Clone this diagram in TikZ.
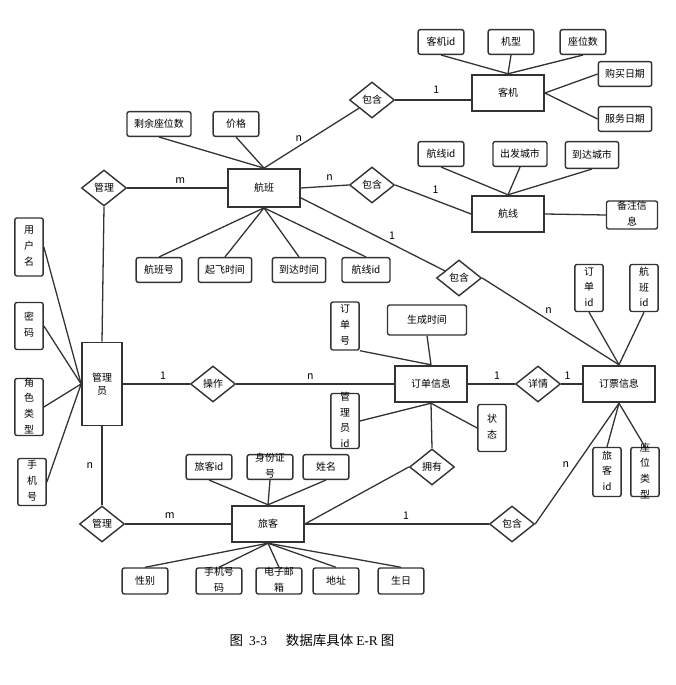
\documentclass[tikz,border=0pt]{standalone}
\usepackage{fontspec}
\setmainfont{Noto Sans CJK SC}
\newfontfamily\capfont{Liberation Serif}
\usetikzlibrary{shapes.geometric}
\definecolor{erline}{HTML}{333333}
\newcommand{\stacktext}[2][0.8cm]{\parbox[c][0pt][c]{#1}{\centering\baselineskip=13.5pt #2}}

\begin{document}
\begin{tikzpicture}[x=0.03cm,y=-0.03cm,
  font=\fontsize{8.5}{11}\selectfont,
  entity/.style={draw=erline,line width=1.5pt,inner sep=0pt,minimum width=2.16cm,minimum height=1.1cm,align=center},
  attrib/.style={draw=erline,line width=1.2pt,rounded corners=1.8pt,inner sep=0pt,minimum width=1.37cm,minimum height=0.74cm,align=center},
  vattrib/.style={attrib,minimum width=0.85cm,minimum height=#1},
  relation/.style={diamond,draw=erline,line width=1.2pt,inner sep=0pt,minimum width=1.35cm,minimum height=1.08cm},
  conn/.style={draw=erline,line width=1.1pt},
  card/.style={inner sep=1pt,font=\fontsize{9}{10}\selectfont}]
  \useasboundingbox (0,0) rectangle (675,685);
  % 客机
  \node[entity] (kj) at (508,93) {客机};
  \node[attrib] (kjid) at (441,42) {客机id};
  \node[attrib] (jx) at (511,42) {机型};
  \node[attrib] (zws) at (583,42) {座位数};
  \node[attrib,minimum width=1.6cm] (gmrq) at (625,74) {购买日期};
  \node[attrib,minimum width=1.6cm] (fwrq) at (625,119) {服务日期};
  % 航线
  \node[entity] (hx) at (508,214) {航线};
  \node[attrib] (hxid) at (441,154) {航线id};
  \node[attrib,minimum width=1.62cm] (cfcs) at (520,154) {出发城市};
  \node[attrib,minimum width=1.6cm,minimum height=0.8cm] (ddcs) at (592,155) {到达城市};
  \node[attrib,minimum width=1.53cm,minimum height=0.84cm] (bzxx) at (632,215) {\stacktext[1.4cm]{备注信\\息}};
  % 航班
  \node[entity,minimum height=1.14cm] (hb) at (264,188) {航班};
  \node[attrib,minimum width=1.92cm] (syzws) at (159,124) {剩余座位数};
  \node[attrib] (jg) at (236,124) {价格};
  \node[attrib] (hbh) at (159,270) {航班号};
  \node[attrib,minimum width=1.6cm] (qfsj) at (225,270) {起飞时间};
  \node[attrib,minimum width=1.6cm] (ddsj) at (299,270) {到达时间};
  \node[attrib,minimum width=1.44cm] (hbhxid) at (366,270) {航线id};
  % relationships
  \node[relation] (bh1) at (372,100) {包含};
  \node[relation] (bh2) at (372,185) {包含};
  \node[relation] (bh3) at (459,278) {包含};
  \node[relation] (bh4) at (512,524) {包含};
  \node[relation] (gl1) at (104,188) {管理};
  \node[relation] (gl2) at (102,524) {管理};
  \node[relation] (cz) at (213,384) {操作};
  \node[relation] (xq) at (538,384) {详情};
  \node[relation] (yy) at (432,467) {拥有};
  % 管理员
  \node[entity,minimum width=1.2cm,minimum height=2.49cm] (glr) at (102,384) {管理\\员};
  \node[vattrib=1.74cm] (yhm) at (29,247) {\stacktext{用\\户\\名}};
  \node[vattrib=1.41cm] (mm) at (29,326) {\stacktext{密\\码}};
  \node[vattrib=1.71cm] (jslx) at (29,407) {\stacktext{角\\色\\类\\型}};
  \node[vattrib=1.41cm] (sjh) at (32,482) {\stacktext{手\\机\\号}};
  % 订单信息
  \node[entity] (ddxx) at (431,384) {订单信息};
  \node[vattrib=1.44cm] (ddh) at (345,326) {\stacktext{订\\单\\号}};
  \node[attrib,minimum width=2.37cm,minimum height=0.9cm] (scsj) at (427,320) {生成时间};
  \node[vattrib=1.65cm] (glyid) at (345,421) {\stacktext{管\\理\\员\\id}};
  \node[vattrib=1.41cm] (zt) at (492,428) {\stacktext{状\\态}};
  % 订票信息
  \node[entity] (dpxx) at (619,384) {订票信息};
  \node[vattrib=1.41cm] (ddid) at (589,288) {\stacktext{订\\单\\id}};
  \node[vattrib=1.41cm] (hbid) at (644,288) {\stacktext{航\\班\\id}};
  \node[vattrib=1.47cm] (lkid2) at (607,472) {\stacktext{旅\\客\\id}};
  \node[vattrib=1.47cm] (zwlx) at (645,472) {\stacktext{座\\位\\类\\型}};
  % 旅客
  \node[entity] (lk) at (268,524) {旅客};
  \node[attrib] (lkid) at (209,467) {旅客id};
  \node[attrib] (sfzh) at (270,467) {\stacktext[1.3cm]{身份证\\号}};
  \node[attrib] (xm) at (326,467) {姓名};
  \node[attrib,minimum height=0.78cm] (xb) at (145,581) {性别};
  \node[attrib,minimum height=0.78cm] (sjhm) at (219,581) {\stacktext[1.3cm]{手机号\\码}};
  \node[attrib,minimum height=0.78cm] (dzyx) at (279,581) {\stacktext[1.3cm]{电子邮\\箱}};
  \node[attrib,minimum height=0.78cm] (dz) at (336,581) {地址};
  \node[attrib,minimum height=0.78cm] (sr) at (401,581) {生日};

  % attribute lines
  \draw[conn] (kjid.south) -- (kj.north);
  \draw[conn] (jx.south) -- (kj.north);
  \draw[conn] (zws.south) -- (kj.north);
  \draw[conn] (kj.east) -- (gmrq.west);
  \draw[conn] (kj.east) -- (fwrq.west);
  \draw[conn] (hxid.south) -- (hx.north);
  \draw[conn] (cfcs.south) -- (hx.north);
  \draw[conn] (ddcs.south) -- (hx.north);
  \draw[conn] (hx.east) -- (bzxx.west);
  \draw[conn] (syzws.south) -- (hb.north);
  \draw[conn] (jg.south) -- (hb.north);
  \draw[conn] (hb.south) -- (hbh.north);
  \draw[conn] (hb.south) -- (qfsj.north);
  \draw[conn] (hb.south) -- (ddsj.north);
  \draw[conn] (hb.south) -- (hbhxid.north);
  \draw[conn] (yhm.east) -- (glr.west);
  \draw[conn] (mm.east) -- (glr.west);
  \draw[conn] (jslx.east) -- (glr.west);
  \draw[conn] (sjh.east) -- (glr.west);
  \draw[conn] (ddh.south east) -- (ddxx.north);
  \draw[conn] (scsj.south) -- (ddxx.north);
  \draw[conn] (glyid.east) -- (ddxx.south);
  \draw[conn] (zt.west) -- (ddxx.south);
  \draw[conn] (ddid.south) -- (dpxx.north);
  \draw[conn] (hbid.south) -- (dpxx.north);
  \draw[conn] (dpxx.south) -- (lkid2.north);
  \draw[conn] (dpxx.south) -- (zwlx.north);
  \draw[conn] (lkid.south) -- (lk.north);
  \draw[conn] (sfzh.south) -- (lk.north);
  \draw[conn] (xm.south) -- (lk.north);
  \draw[conn] (lk.south) -- (xb.north);
  \draw[conn] (lk.south) -- (sjhm.north);
  \draw[conn] (lk.south) -- (dzyx.north);
  \draw[conn] (lk.south) -- (dz.north);
  \draw[conn] (lk.south) -- (sr.north);

  % relationship lines
  \draw[conn] (gl1.east) -- node[card,pos=0.53,above=2pt] {m} (hb.west);
  \draw[conn] (gl1.south) -- (glr.north);
  \draw[conn] (hb.north) -- node[card,pos=0.42,above left] {n} (bh1);
  \draw[conn] (bh1.east) -- node[card,pos=0.54,above=4pt] {1} (bh1.east -| kj.west);
  \draw[conn] (hb.east) -- node[card,pos=0.6,above=3pt] {n} (bh2.west);
  \draw[conn] (bh2.east) -- node[card,pos=0.53,above=4pt] {1} (hx.west);
  \draw[conn] (hb.-15) -- node[card,pos=0.6,above right=0pt] {1} (bh3);
  \draw[conn] (bh3.east) -- node[card,pos=0.44,above right=1pt] {n} (dpxx.north);
  \draw[conn] (glr.east) -- node[card,pos=0.6,above=2pt] {1} (cz.west);
  \draw[conn] (cz.east) -- node[card,pos=0.47,above=2pt] {n} (ddxx.west);
  \draw[conn] (ddxx.east) -- node[card,pos=0.62,above=2pt] {1} (xq.west);
  \draw[conn] (xq.east) -- node[card,pos=0.3,above=2pt] {1} (dpxx.west);
  \draw[conn] (glr.south) -- node[card,pos=0.5,left=6pt] {n} (gl2.north);
  \draw[conn] (gl2.east) -- node[card,pos=0.42,above=3pt] {m} (lk.west);
  \draw[conn] (lk.east) -- node[card,pos=0.55,above=2pt] {1} (bh4.west);
  \draw[conn] (bh4.east) -- node[card,pos=0.44,above left=1pt] {n} (dpxx.south);
  \draw[conn] (lk.east) -- (yy.west);
  \draw[conn] (yy.north) -- (ddxx.south);

  % caption
  \node[font=\fontsize{11.5}{13}\selectfont] (caption) at (312,640) {图\ \ {\capfont 3-3}\hspace{1.4em}数据库具体 {\capfont E-R} 图};
\end{tikzpicture}
\end{document}
